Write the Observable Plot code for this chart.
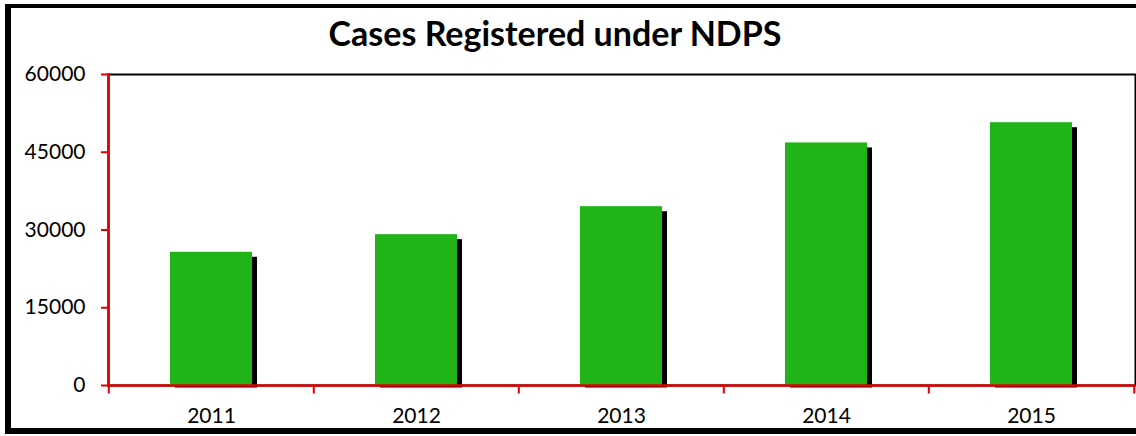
<!DOCTYPE html>
<html>
<head>
<meta charset="utf-8">
<script src="https://cdn.jsdelivr.net/npm/d3@7"></script>
<script src="https://cdn.jsdelivr.net/npm/@observablehq/plot@0.6"></script>
<style>
  html, body { margin: 0; padding: 0; background: #fff; }
  #wrap { position: relative; width: 1136px; height: 436px; overflow: hidden; background: #fff; font-family: Lato, "Open Sans", sans-serif; }
  #border { position: absolute; left: 5px; top: 4px; width: 1150px; height: 420px; border: 6px solid #000; border-top-width: 4px; box-sizing: content-box; pointer-events: none; }
  #title { position: absolute; left: 0; width: 1110px; top: 16px; text-align: center; font-weight: 700; font-size: 34px; line-height: 34px; color: #000; }
  svg { display: block; }
</style>
</head>
<body>
<div id="wrap">
  <div id="chart"></div>
  <div id="border"></div>
  <div id="title">Cases Registered under NDPS</div>
</div>
<script>
const years = ["2011", "2012", "2013", "2014", "2015"];
const cases = [25700, 29100, 34500, 46800, 50700];
const yTicks = [0, 15000, 30000, 45000, 60000];

const data = years.map((year, i) => ({year, value: cases[i]}));

const W = 1136, H = 436;
const mL = 108, mR = 1, mT = 74, mB = 51;
const step = (W - mL - mR) / years.length;
const RED = "#e00000";
const GREEN = "#21b418";

const tickSymbol = { draw(ctx) { ctx.moveTo(0, 0); ctx.lineTo(0, 8); } };

const plot = Plot.plot({
  width: W,
  height: H,
  marginLeft: mL,
  marginRight: mR,
  marginTop: mT,
  marginBottom: mB,
  style: { fontFamily: "Lato, 'Open Sans', sans-serif", fontSize: "21px", color: "#000", background: "transparent" },
  x: { domain: years, paddingInner: 0.6, paddingOuter: 0.3, label: null },
  y: { domain: [0, 60000], label: null },
  marks: [
    Plot.frame({ stroke: "#000", strokeWidth: 2 }),
    Plot.barY(data, { x: "year", y: "value", fill: "#000", dx: 5, dy: 5, insetBottom: 2.5 }),
    Plot.barY(data, { x: "year", y: "value", fill: GREEN }),
    Plot.ruleY([0], { stroke: RED, strokeWidth: 2.5 }),
    Plot.frame({ anchor: "left", stroke: RED, strokeWidth: 2.5 }),
    Plot.axisY({ ticks: yTicks, tickFormat: d3.format("d"), tickSize: 7, tickPadding: 16, stroke: RED, strokeWidth: 2, fill: "#000", fontSize: 21 }),
    Plot.axisX({ tickSize: 0, tickPadding: 23, fill: "#000", fontSize: 21 }),
    Plot.dot(data, { x: "year", y: 0, dx: -step / 2, symbol: tickSymbol, stroke: RED, strokeWidth: 2, fill: "none" }),
    Plot.dot(data.slice(-1), { x: "year", y: 0, dx: step / 2, symbol: tickSymbol, stroke: RED, strokeWidth: 2, fill: "none" })
  ]
});
document.getElementById("chart").appendChild(plot);
</script>
</body>
</html>
